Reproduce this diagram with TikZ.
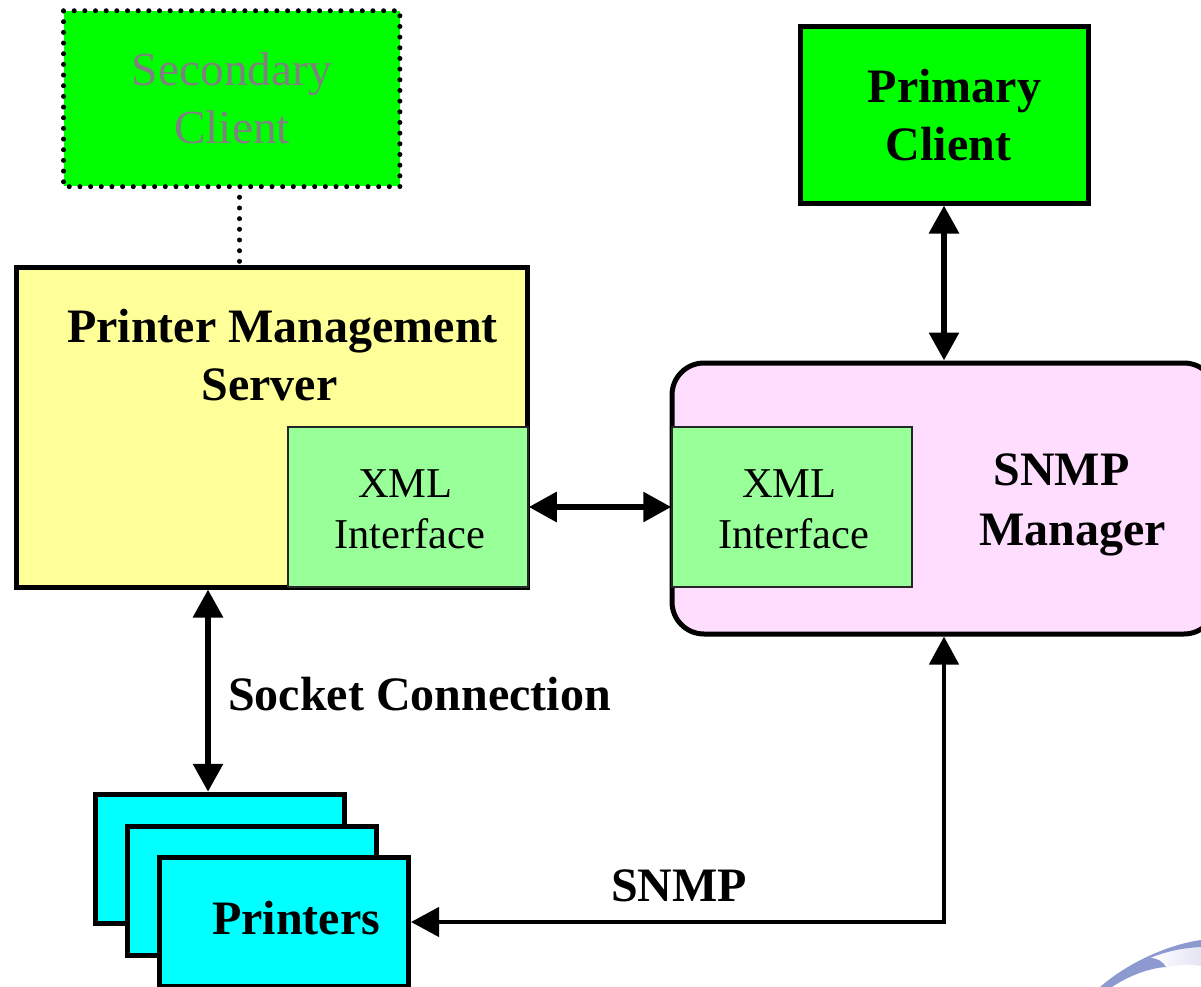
\documentclass[tikz,border=0pt]{standalone}
\usepackage{fontspec}
\setmainfont{Liberation Serif}
\usetikzlibrary{arrows.meta}
\definecolor{clientgreen}{HTML}{00FF00}
\definecolor{serveryellow}{HTML}{FFFF99}
\definecolor{xmlgreen}{HTML}{99FF99}
\definecolor{managerpink}{HTML}{FFDDFF}
\definecolor{printercyan}{HTML}{00FFFF}
\definecolor{swooshblue}{HTML}{8C9AD0}
\definecolor{swooshpale}{HTML}{E4E4F4}
\tikzset{
  box/.style={draw=black, line width=5pt, rectangle, inner sep=0pt},
  xmlbox/.style={draw=black!85, line width=1.5pt, fill=xmlgreen, rectangle, inner sep=0pt,
    minimum width=240, minimum height=160},
  printerbox/.style={box, fill=printercyan, minimum width=249, minimum height=129.5},
  boldlabel/.style={align=center, inner sep=0pt, font=\fontsize{48}{58}\selectfont\bfseries},
  thinlabel/.style={align=center, inner sep=0pt, font=\fontsize{42.5}{51}\selectfont},
  dotline/.style={line width=5pt, line cap=round, dash pattern=on 0pt off 10.67pt},
  link/.style={line width=6pt, {Triangle[length=28pt,width=29pt]}-{Triangle[length=28pt,width=29pt]}},
  thinlink/.style={link, line width=4.5pt}
}
\begin{document}
\begin{tikzpicture}[x=1pt, y=-1pt]
  \clip (0,0) rectangle (1201,987);
  % clients
  \node[rectangle, fill=clientgreen, minimum width=336, minimum height=175.5, inner sep=0pt] (secondary) at (231.7,98.7) {};
  \draw[dotline] (secondary.north west) -- (secondary.north east) -- (secondary.south east) -- (secondary.south west) -- cycle;
  \node[align=center, inner sep=0pt, text=gray, font=\fontsize{47.4}{58}\selectfont] (secondarytext) at (232,98) {Secondary\\Client};
  \node[box, fill=clientgreen, minimum width=288, minimum height=176] (primary) at (944,115) {};
  \node[boldlabel] (primarytext) at (954.5,115.5) {Primary\\Client\hspace*{12pt}};
  % server and manager
  \node[box, fill=serveryellow, minimum width=511, minimum height=320] (server) at (271.5,427) {};
  \node[boldlabel] (servertext) at (282.5,355) {Printer Management\\Server\hspace*{26pt}};
  \node[xmlbox] (xmlserver) at (408,507) {};
  \node[thinlabel] (xmlservertext) at (409.5,509.5) {XML\hspace*{8pt}\\Interface};
  \node[box, fill=managerpink, rounded corners=32, minimum width=544, minimum height=271] (manager) at (944,498.5) {};
  \node[xmlbox] (xmlmanager) at (792,507) {};
  \node[thinlabel] (xmlmanagertext) at (793.5,509.5) {XML\hspace*{8pt}\\Interface};
  \node[boldlabel, font=\fontsize{48}{60}\selectfont\bfseries] (managertext) at (1072.5,505) {SNMP\hspace*{22pt}\\Manager};
  % printers, back to front
  \node[printerbox] (printerback) at (220,859) {};
  \node[printerbox] (printermid) at (252,891) {};
  \node[printerbox] (printerfront) at (284,922) {};
  \node[boldlabel] (printerstext) at (296,918) {Printers};
  % connectors
  \coordinate (socket) at (208,700);
  \coordinate (dotdrop) at (239.5,230);
  \draw[dotline] (dotdrop |- secondary.south) ++(0,10.67) -- (dotdrop |- server.north);
  \draw[link] (primary.south) -- (manager.north);
  \draw[link] (xmlserver.east) -- (xmlmanager.west);
  \draw[link] (socket |- server.south) -- (socket |- printerback.north);
  \draw[thinlink] (printerfront.east) -| (manager.south);
  \node[boldlabel, anchor=west] (sockettext) at (228,694.5) {Socket Connection};
  \node[boldlabel] (snmptext) at (679,886) {SNMP};
  % swoosh in the corner
  \shade[left color=white, right color=swooshpale] (1150,958) .. controls (1165,952) and (1180,948) .. (1201,946) -- (1201,966) .. controls (1190,964) and (1178,964) .. (1166,968) -- cycle;
  \fill[swooshblue] (1100,987) .. controls (1125,965) and (1165,945) .. (1201,940) -- (1201,947) .. controls (1180,948) and (1165,952) .. (1150,958) .. controls (1158,958) and (1163,962) .. (1166,967) .. controls (1150,968) and (1130,975) .. (1112,987) -- cycle;
\end{tikzpicture}
\end{document}
